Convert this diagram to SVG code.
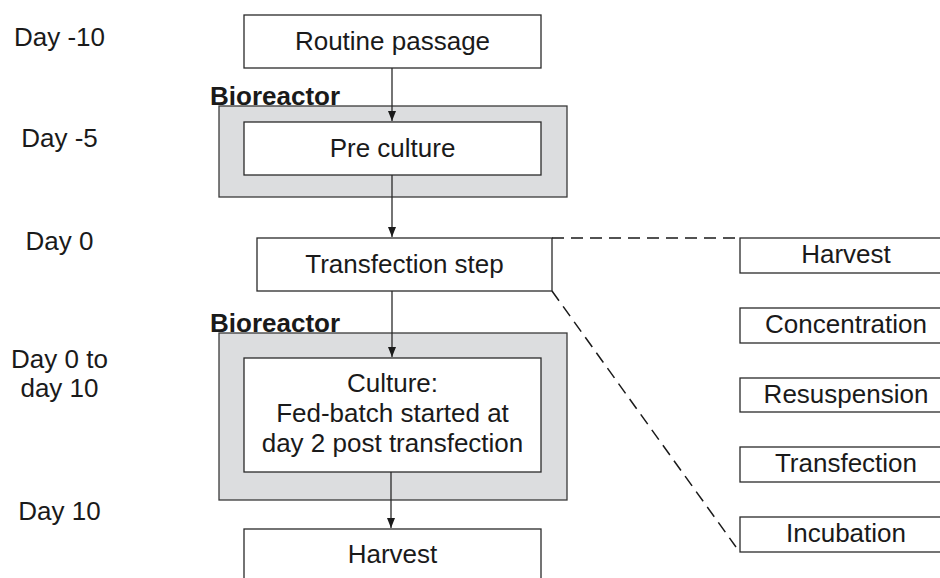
<svg xmlns="http://www.w3.org/2000/svg" width="940" height="578" viewBox="0 0 940 578">
  <style>
    text { font-family: "Liberation Sans", Arial, sans-serif; font-size: 26px; fill: #1a1a1a; }
    .c { text-anchor: middle; }
    .bold { font-weight: bold; }
    .box { fill: #ffffff; stroke: #2a2a2a; stroke-width: 1.3; }
    .reactor { fill: #dcdddf; stroke: #3a3a3a; stroke-width: 1.3; }
    .link { stroke: #2a2a2a; stroke-width: 1.3; fill: none; }
    .dash { stroke: #1a1a1a; stroke-width: 1.5; fill: none; stroke-dasharray: 12 7; }
  </style>
  <defs>
    <marker id="arrow" viewBox="0 0 10 8" refX="10" refY="4" markerWidth="10" markerHeight="8" markerUnits="userSpaceOnUse" orient="auto">
      <path d="M0,0 L10,4 L0,8 Z" fill="#1a1a1a"/>
    </marker>
  </defs>
  <rect width="940" height="578" fill="#ffffff"/>

  <!-- timeline labels -->
  <g id="timeline">
    <text class="c" x="59.5" y="46">Day -10</text>
    <text class="c" x="59.5" y="147">Day -5</text>
    <text class="c" x="59.5" y="250">Day 0</text>
    <text class="c" x="59.5" y="368">Day 0 to</text>
    <text class="c" x="59.5" y="397">day 10</text>
    <text class="c" x="59.5" y="520">Day 10</text>
  </g>

  <!-- bioreactor enclosures -->
  <g id="bioreactor-1">
    <rect class="reactor" x="219" y="106" width="348" height="91"/>
    <text class="bold" x="210" y="105">Bioreactor</text>
  </g>
  <g id="bioreactor-2">
    <rect class="reactor" x="219" y="333" width="348" height="167"/>
    <text class="bold" x="210" y="332">Bioreactor</text>
  </g>

  <!-- main process steps -->
  <g id="routine-passage">
    <rect class="box" x="244" y="15" width="297" height="53"/>
    <text class="c" x="392.5" y="50">Routine passage</text>
  </g>
  <g id="pre-culture">
    <rect class="box" x="244" y="122" width="297" height="53"/>
    <text class="c" x="392.5" y="157">Pre culture</text>
  </g>
  <g id="transfection-step">
    <rect class="box" x="257" y="238" width="295" height="53"/>
    <text class="c" x="404.5" y="273">Transfection step</text>
  </g>
  <g id="culture">
    <rect class="box" x="244" y="358" width="297" height="114"/>
    <text class="c" x="392.5" y="392">Culture:</text>
    <text class="c" x="392.5" y="422">Fed-batch started at</text>
    <text class="c" x="392.5" y="452">day 2 post transfection</text>
  </g>
  <g id="harvest-main">
    <rect class="box" x="244" y="529" width="297" height="60"/>
    <text class="c" x="392.5" y="563">Harvest</text>
  </g>

  <!-- transfection sub-steps -->
  <g id="sub-harvest">
    <rect class="box" x="740" y="238" width="210" height="35"/>
    <text class="c" x="846" y="263">Harvest</text>
  </g>
  <g id="sub-concentration">
    <rect class="box" x="740" y="308" width="210" height="35"/>
    <text class="c" x="846" y="333">Concentration</text>
  </g>
  <g id="sub-resuspension">
    <rect class="box" x="740" y="378" width="210" height="34"/>
    <text class="c" x="846" y="403">Resuspension</text>
  </g>
  <g id="sub-transfection">
    <rect class="box" x="740" y="447" width="210" height="35"/>
    <text class="c" x="846" y="472">Transfection</text>
  </g>
  <g id="sub-incubation">
    <rect class="box" x="740" y="517" width="210" height="35"/>
    <text class="c" x="846" y="542">Incubation</text>
  </g>

  <!-- connectors -->
  <g id="connectors">
    <line class="link" x1="392" y1="68" x2="392" y2="121" marker-end="url(#arrow)"/>
    <line class="link" x1="392" y1="175" x2="392" y2="237" marker-end="url(#arrow)"/>
    <line class="link" x1="392" y1="291" x2="392" y2="357" marker-end="url(#arrow)"/>
    <line class="link" x1="391" y1="472" x2="391" y2="528" marker-end="url(#arrow)"/>
    <line class="dash" x1="552" y1="238" x2="740" y2="238"/>
    <line class="dash" x1="552" y1="291" x2="736" y2="547"/>
  </g>
</svg>
